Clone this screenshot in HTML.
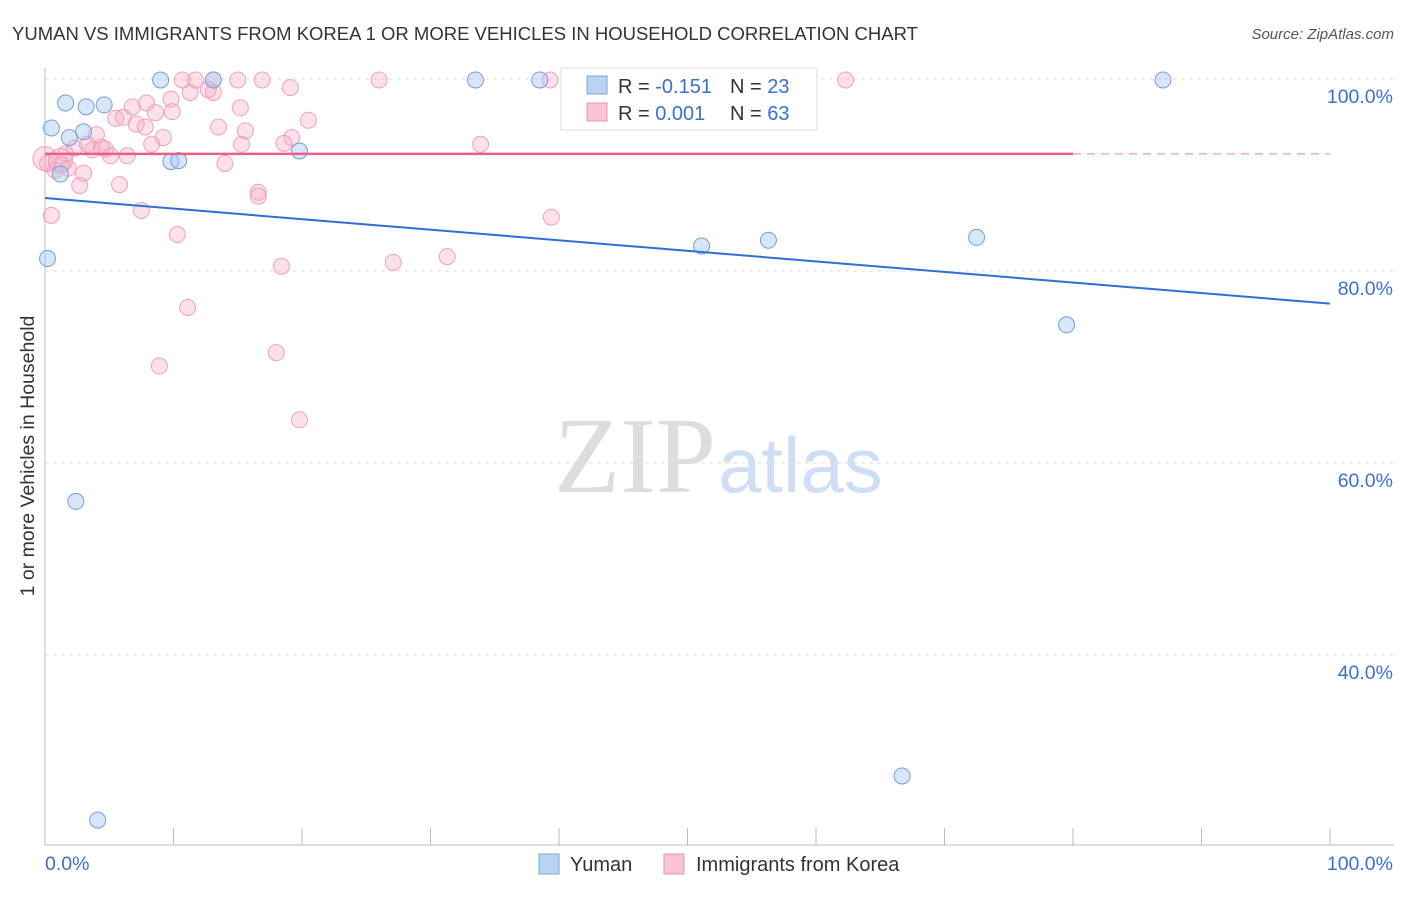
<!DOCTYPE html>
<html><head><meta charset="utf-8"><style>
body{margin:0;background:#fff;font-family:"Liberation Sans",sans-serif}
</style></head><body>
<svg id="c" width="1406" height="892" xmlns="http://www.w3.org/2000/svg">
<text x="12" y="40" font-size="18.5" fill="#333">YUMAN VS IMMIGRANTS FROM KOREA 1 OR MORE VEHICLES IN HOUSEHOLD CORRELATION CHART</text>
<text x="1394" y="39" font-size="15" fill="#555" font-style="italic" text-anchor="end">Source: ZipAtlas.com</text>
<text x="716" y="492" font-size="108" fill="#ddd" font-family="Liberation Serif" text-anchor="end">ZIP</text>
<text x="718" y="492" font-size="78" fill="#cfdff3">atlas</text>
<text transform="translate(34,456) rotate(-90)" font-size="19.5" fill="#333" text-anchor="middle">1 or more Vehicles in Household</text>
<g id="grid"></g><g id="marks"></g>
<g>
<rect x="561" y="68" width="256" height="62" fill="#fff" stroke="#ddd"/>
<rect x="587" y="76" width="20" height="18" fill="#b9d3f3" stroke="#7aa6de"/>
<rect x="587" y="103" width="20" height="18" fill="#f9c4d4" stroke="#ec93ae"/>
<text x="618" y="93" font-size="20" fill="#333">R = <tspan fill="#3a6fd4">-0.151</tspan></text>
<text x="730" y="93" font-size="20" fill="#333">N = <tspan fill="#3a6fd4">23</tspan></text>
<text x="618" y="120" font-size="20" fill="#333">R = <tspan fill="#3a6fd4">0.001</tspan></text>
<text x="730" y="120" font-size="20" fill="#333">N = <tspan fill="#3a6fd4">63</tspan></text>
</g>
<g>
<rect x="539" y="854" width="20" height="20" fill="#b9d3f3" stroke="#7aa6de"/>
<text x="570" y="871" font-size="20" fill="#333">Yuman</text>
<rect x="664" y="854" width="20" height="20" fill="#f9c4d4" stroke="#ec93ae"/>
<text x="696" y="871" font-size="20" fill="#333">Immigrants from Korea</text>
</g>
</svg>
<script>
const yTicks=[100,80,60,40];
const yTickLabels=["100.0%","80.0%","60.0%","40.0%"];
const xTickLabels=["0.0%","100.0%"];
const blueX=[9.0,13.1,33.5,38.5,87.0,1.6,0.5,3.2,4.6,3.0,1.9,1.2,9.8,10.4,19.8,0.2,51.1,56.3,72.5,79.5,2.4,4.1,66.7];
const blueY=[99.9,99.9,99.9,99.9,99.9,97.5,94.9,97.1,97.3,94.5,93.9,90.1,91.4,91.5,92.5,81.3,82.6,83.2,83.5,74.4,56.0,22.8,27.4];
const pinkX=[10.7,11.7,13.1,15.0,16.9,26.0,39.3,62.3,11.3,12.7,13.1,19.1,9.8,7.9,6.8,8.6,9.9,15.2,6.1,5.5,7.1,7.8,13.5,15.6,20.5,4.0,9.2,8.3,15.3,19.2,18.6,33.9,3.3,4.4,4.7,2.3,6.4,5.1,14.0,1.3,1.8,0.2,0.8,3.0,2.7,5.8,16.6,16.6,7.5,39.4,0.5,10.3,18.4,27.1,31.3,11.1,18.0,8.9,19.8,0.0,1.2,3.7,1.6];
const pinkY=[99.9,99.9,99.9,99.9,99.9,99.9,99.9,99.9,98.6,98.9,98.6,99.1,97.9,97.5,97.1,96.5,96.6,97.0,96.0,95.9,95.3,95.0,95.0,94.6,95.7,94.2,93.9,93.2,93.2,93.9,93.3,93.2,93.2,92.9,92.7,92.8,92.0,92.0,91.2,91.1,90.7,91.2,90.5,90.2,88.9,89.0,88.2,87.8,86.3,85.6,85.8,83.8,80.5,80.9,81.5,76.2,71.5,70.1,64.5,91.7,91.5,92.6,92.2];
const blueTrend=[87.6,76.6];
const pinkTrend=[92.2,92.2];
const X=v=>45+v*12.85, Y=v=>1039-v*9.6;
const NS="http://www.w3.org/2000/svg";
function mk(p,t,a){const e=document.createElementNS(NS,t);for(const k in a)e.setAttribute(k,a[k]);p.appendChild(e);return e;}
const g=document.getElementById('grid'), m=document.getElementById('marks');
yTicks.forEach((t,i)=>{
 const l=mk(g,'line',{x1:45,x2:1394,y1:Y(t),y2:Y(t),stroke:'#ddd','stroke-dasharray':'4,4'});
 
 
 const tx=mk(g,'text',{x:1393,y:Y(t)+24,'font-size':19.5,fill:'#3a6fd4','text-anchor':'end'});
 tx.textContent=yTickLabels[i];
 
 
});
const ax=mk(g,'line',{x1:45,x2:45,y1:68,y2:845,stroke:'#bbb'});


const bx=mk(g,'line',{x1:45,x2:1394,y1:845,y2:845,stroke:'#bbb'});


for(let i=0;i<=10;i++){const t=mk(g,'line',{x1:X(i*10),x2:X(i*10),y1:828,y2:845,stroke:'#bbb'});
 
 }
[[0,'start',45],[100,'end',1393]].forEach((d,i)=>{const t=mk(g,'text',{x:d[2],y:870,'font-size':19.5,fill:'#3a6fd4','text-anchor':d[1]});t.textContent=xTickLabels[i];
 
 });
pinkX.forEach((x,i)=>{const c=mk(m,'circle',{cx:X(x),cy:Y(pinkY[i]),r:(x<1.5&&i>=59)?12:8,fill:'rgba(246,170,195,0.35)',stroke:'#f0a0b8','stroke-width':1});
 
 });
blueX.forEach((x,i)=>{const c=mk(m,'circle',{cx:X(x),cy:Y(blueY[i]),r:8,fill:'rgba(170,200,240,0.45)',stroke:'#6f9fdd','stroke-width':1});
 
 });
const bl=mk(m,'line',{x1:X(0),y1:Y(blueTrend[0]),x2:X(100),y2:Y(blueTrend[1]),stroke:'#2f6fd6','stroke-width':2});


const pl=mk(m,'line',{x1:X(0),y1:Y(pinkTrend[0]),x2:X(80),y2:Y(pinkTrend[0]+(pinkTrend[1]-pinkTrend[0])*0.8),stroke:'#e8608a','stroke-width':2.5});


const pd=mk(m,'line',{x1:X(80),y1:Y(pinkTrend[0]+(pinkTrend[1]-pinkTrend[0])*0.8),x2:X(100),y2:Y(pinkTrend[1]),stroke:'#eeaabf','stroke-width':1.5,'stroke-dasharray':'8,6'});


</script>
</body></html>
